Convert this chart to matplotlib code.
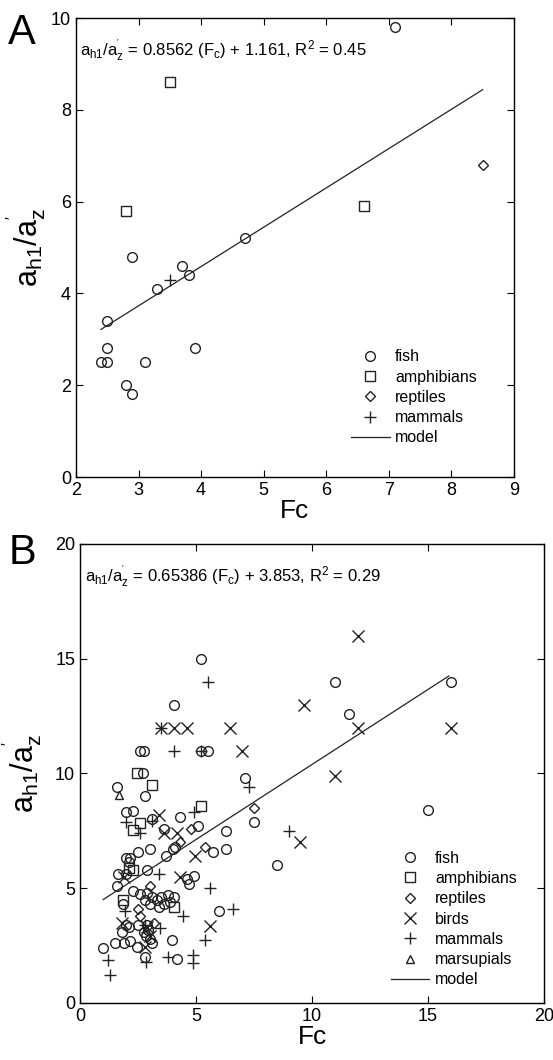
import matplotlib
matplotlib.use('Agg')
import matplotlib.pyplot as plt
import numpy as np

plt.rcParams['font.family'] = ['Liberation Sans', 'DejaVu Sans']
plt.rcParams['mathtext.fontset'] = 'custom'
plt.rcParams['mathtext.rm'] = 'Liberation Sans'
plt.rcParams['mathtext.it'] = 'Liberation Sans'
plt.rcParams['mathtext.default'] = 'regular'

# ---- panel A data ----
a_fish_x = [7.1, 4.7, 2.9, 3.7, 3.8, 3.3, 2.5, 2.5, 3.9, 2.4, 2.5, 3.1, 2.8, 2.9]
a_fish_y = [9.8, 5.2, 4.8, 4.6, 4.4, 4.1, 3.4, 2.8, 2.8, 2.5, 2.5, 2.5, 2.0, 1.8]
a_amph_x = [3.5, 2.8, 6.6]
a_amph_y = [8.6, 5.8, 5.9]
a_rept_x = [8.5]
a_rept_y = [6.8]
a_mamm_x = [3.5]
a_mamm_y = [4.3]
a_slope, a_icpt, a_r2 = 0.8562, 1.161, 0.45
a_xrange = [2.4, 8.5]

# ---- panel B data ----
b_fish_x = [1.6, 2.8, 2.7, 2.6, 2.75, 4.05, 5.2, 5.2, 5.5, 7.1, 11.0, 16.0, 11.6, 15.0,
            8.5, 7.5, 6.3, 6.3, 5.75, 6.0, 2.0, 2.3, 3.1, 4.3, 5.1, 3.6, 4.1, 4.0, 3.7,
            2.5, 3.0, 2.0, 2.15, 2.1, 1.65, 2.0, 2.9, 4.6, 4.7, 4.9, 1.6, 2.3, 2.6, 2.9,
            3.1, 3.3, 3.5, 3.8, 4.05, 3.0, 3.4, 3.6, 3.9, 2.8, 1.85, 2.0, 1.8, 2.5, 2.1,
            2.75, 2.85, 2.95, 3.0, 2.9, 3.95, 1.0, 1.5, 1.9, 2.15, 2.45, 2.8, 4.2, 3.1]
b_fish_y = [9.4, 9.0, 10.0, 11.0, 11.0, 13.0, 15.0, 11.0, 11.0, 9.8, 14.0, 14.0, 12.6, 8.4,
            6.0, 7.9, 7.5, 6.7, 6.6, 4.0, 8.3, 8.35, 8.0, 8.1, 7.7, 7.6, 6.8, 6.7, 6.4,
            6.6, 6.7, 6.3, 6.3, 6.15, 5.6, 5.6, 5.8, 5.4, 5.2, 5.55, 5.1, 4.9, 4.75, 4.8,
            4.6, 4.5, 4.6, 4.7, 4.6, 4.3, 4.2, 4.3, 4.4, 4.5, 4.3, 3.4, 3.1, 3.4, 3.3,
            3.1, 2.9, 3.2, 2.8, 3.4, 2.75, 2.4, 2.6, 2.6, 2.7, 2.45, 2.0, 1.9, 2.6]
b_amph_x = [2.45, 3.1, 2.6, 2.3, 5.2, 2.1, 2.3, 1.85, 4.05]
b_amph_y = [10.0, 9.5, 7.85, 7.55, 8.6, 5.9, 5.8, 4.5, 4.2]
b_rept_x = [7.5, 4.8, 4.3, 5.4, 3.0, 2.5, 2.6, 3.2]
b_rept_y = [8.5, 7.6, 7.0, 6.8, 5.1, 4.1, 3.8, 3.5]
b_bird_x = [12.0, 9.65, 3.5, 4.05, 4.6, 6.45, 7.0, 12.0, 16.0, 11.0, 9.5, 3.4, 3.6, 4.2,
            4.95, 4.3, 5.6, 1.8, 2.9, 3.0, 2.8, 1.9]
b_bird_y = [16.0, 13.0, 12.0, 12.0, 12.0, 12.0, 11.0, 12.0, 12.0, 9.9, 7.0, 8.2, 7.4, 7.4,
            6.4, 5.5, 3.35, 3.5, 3.3, 2.9, 2.45, 5.5]
b_mamm_x = [5.5, 3.5, 4.05, 5.2, 7.3, 2.0, 2.6, 3.1, 4.9, 9.0, 3.4, 5.6, 1.95, 4.45,
            6.6, 5.4, 3.45, 2.85, 3.8, 4.85, 4.85, 1.2, 1.3, 2.8]
b_mamm_y = [14.0, 12.0, 11.0, 11.0, 9.4, 7.9, 7.4, 7.95, 8.3, 7.5, 5.6, 5.0, 4.0, 3.8,
            4.1, 2.75, 3.25, 1.8, 2.0, 2.07, 1.74, 1.86, 1.2, 3.4]
b_mars_x = [1.7]
b_mars_y = [9.05]
b_slope, b_icpt, b_r2 = 0.65386, 3.853, 0.29
b_xrange = [1.0, 15.9]

fig = plt.figure(figsize=(5.53, 10.6), dpi=100)
axA = fig.add_axes([0.1374, 0.55, 0.792, 0.433])
axB = fig.add_axes([0.1447, 0.0538, 0.839, 0.433])

ms = 7
mk = dict(linestyle='none', markerfacecolor='none', color='#222222', markeredgewidth=1.0)
leg_kw = dict(frameon=False, fontsize=11.5, handlelength=2.4, handletextpad=0.35,
              labelspacing=0.33, borderaxespad=0)


def style(ax):
    ax.tick_params(direction='in', top=True, right=True, labelsize=13, length=5, width=0.8)
    for s in ax.spines.values():
        s.set_linewidth(1.0)


# panel A
axA.plot(a_fish_x, a_fish_y, 'o', ms=ms, label='fish', **mk)
axA.plot(a_amph_x, a_amph_y, 's', ms=ms, label='amphibians', **mk)
axA.plot(a_rept_x, a_rept_y, 'D', ms=5, label='reptiles', **mk)
axA.plot(a_mamm_x, a_mamm_y, '+', ms=9, label='mammals', **mk)
xa = np.array(a_xrange)
axA.plot(xa, a_slope * xa + a_icpt, '-', color='#222222', lw=0.9, label='model')
axA.set_xlim(2, 9)
axA.set_ylim(0, 10)
axA.set_xticks(range(2, 10))
axA.set_yticks([0, 2, 4, 6, 8, 10])
style(axA)
axA.text(0.01, 0.93, r"$a_{h1}/a_z^{'}$ = 0.8562 (F$_c$) + 1.161, R$^2$ = 0.45",
         transform=axA.transAxes, fontsize=12, va='center')
axA.set_xlabel('Fc', fontsize=19, labelpad=0)
axA.set_ylabel(r"$a_{h1}/a_z^{'}$", fontsize=22, labelpad=2)
axA.legend(loc='lower right', bbox_to_anchor=(0.93, 0.055), **leg_kw)

# panel B
axB.plot(b_fish_x, b_fish_y, 'o', ms=ms, label='fish', **mk)
axB.plot(b_amph_x, b_amph_y, 's', ms=ms, label='amphibians', **mk)
axB.plot(b_rept_x, b_rept_y, 'D', ms=5, label='reptiles', **mk)
axB.plot(b_bird_x, b_bird_y, 'x', ms=8, label='birds', **mk)
axB.plot(b_mamm_x, b_mamm_y, '+', ms=9, label='mammals', **mk)
axB.plot(b_mars_x, b_mars_y, '^', ms=6, label='marsupials', **mk)
xb = np.array(b_xrange)
axB.plot(xb, b_slope * xb + b_icpt, '-', color='#222222', lw=0.9, label='model')
axB.set_xlim(0, 20)
axB.set_ylim(0, 20)
axB.set_xticks([0, 5, 10, 15, 20])
axB.set_yticks([0, 5, 10, 15, 20])
style(axB)
axB.text(0.01, 0.93, r"$a_{h1}/a_z^{'}$ = 0.65386 (F$_c$) + 3.853, R$^2$ = 0.29",
         transform=axB.transAxes, fontsize=12, va='center')
axB.set_xlabel('Fc', fontsize=19, labelpad=0)
axB.set_ylabel(r"$a_{h1}/a_z^{'}$", fontsize=22, labelpad=8)
axB.legend(loc='lower right', bbox_to_anchor=(0.955, 0.02), **leg_kw)

fig.text(0.015, 0.988, 'A', fontsize=30, va='top', ha='left')
fig.text(0.015, 0.497, 'B', fontsize=30, va='top', ha='left')

fig.savefig('out.png', dpi=100)
